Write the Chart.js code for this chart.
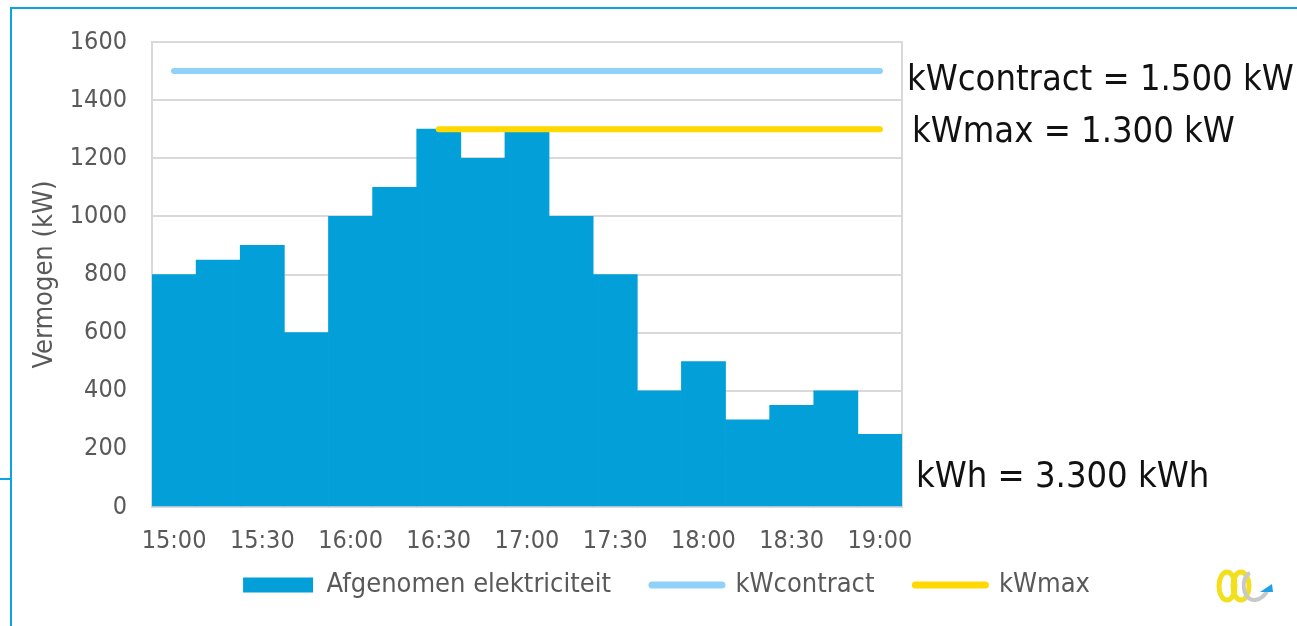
<!DOCTYPE html>
<html lang="nl">
<head>
<meta charset="UTF-8">
<title>Afgenomen elektriciteit</title>
<script src="https://cdn.jsdelivr.net/npm/chart.js@4.4.1/dist/chart.umd.min.js"></script>
<style>
  html, body { margin: 0; padding: 0; background: #fff; }
  #wrap { position: relative; width: 1297px; height: 626px; overflow: hidden; }
  #frame { position: absolute; left: 10px; top: 7px; right: -5px; bottom: -5px;
           border-top: 2px solid #0aa3e3; border-left: 2px solid #0aa3e3; pointer-events: none; }
  #stub { position: absolute; left: 0; top: 478px; width: 11px; height: 2px; background: #0aa3e3; }
  #logo { position: absolute; left: 1210px; top: 566px; }
</style>
</head>
<body>
<div id="wrap">
  <canvas id="chart" width="1297" height="626"></canvas>
  <div id="frame"></div>
  <div id="stub"></div>
  <svg id="logo" width="70" height="45" viewBox="0 0 70 45">
    <ellipse cx="17" cy="20" rx="8" ry="14" fill="none" stroke="#f2e01e" stroke-width="5"/>
    <ellipse cx="31" cy="20" rx="8" ry="14" fill="none" stroke="#f2e01e" stroke-width="5"/>
    <path d="M40 7 C30 11 32 35 45 34 C52 33 56 28 58 23" fill="none" stroke="#c8c8c8" stroke-width="4"/>
    <polygon points="50,26 62,18 63,26" fill="#1ea0e6"/>
  </svg>
</div>

<script>
// tijdstippen per kwartier (alleen de halve uren worden getoond)
const tijden = ['15:00', '15:15', '15:30', '15:45', '16:00', '16:15', '16:30', '16:45', '17:00',
                '17:15', '17:30', '17:45', '18:00', '18:15', '18:30', '18:45', '19:00'];

// afgenomen vermogen per kwartier (kW)
const afgenomen = [800, 850, 900, 600, 1000, 1100, 1300, 1200, 1300, 1000, 800, 400, 500, 300, 350, 400, 250];

// gecontracteerd vermogen en gemeten maximum
const kwContract = [1500, 1500, 1500, 1500, 1500, 1500, 1500, 1500, 1500,
                    1500, 1500, 1500, 1500, 1500, 1500, 1500, 1500];
const kwMax = [null, null, null, null, null, null, 1300, 1300, 1300,
               1300, 1300, 1300, 1300, 1300, 1300, 1300, 1300];

const yTicks = [0, 200, 400, 600, 800, 1000, 1200, 1400, 1600];
const notities = ['kWcontract = 1.500 kW', 'kWmax = 1.300 kW', 'kWh = 3.300 kWh'];

const FONT = '"DejaVu Sans Condensed", "DejaVu Sans", sans-serif';
const GRIJS = '#595959';
const RASTER = '#d9d9d9';

// rand rond het plotgebied
const kader = {
    id: 'kader',
    beforeDatasetsDraw(chart) {
        const { ctx, chartArea: a } = chart;
        ctx.save();
        ctx.strokeStyle = RASTER;
        ctx.lineWidth = 2;
        ctx.strokeRect(a.left, a.top, a.right - a.left, a.bottom - a.top);
        ctx.restore();
    }
};

// teksten rechts naast de grafiek
const notitiesPlugin = {
    id: 'notities',
    afterDraw(chart) {
        const { ctx, chartArea: a, scales } = chart;
        ctx.save();
        ctx.font = '36px ' + FONT;
        ctx.fillStyle = '#111';
        ctx.textBaseline = 'alphabetic';
        ctx.fillText(notities[0], a.right + 5, scales.y.getPixelForValue(kwContract[0]) + 19);
        ctx.fillText(notities[1], a.right + 10, scales.y.getPixelForValue(kwMax[16]) + 13);
        ctx.fillText(notities[2], a.right + 14, a.bottom - 20);
        ctx.restore();
    }
};

new Chart(document.getElementById('chart'), {
    type: 'bar',
    data: {
        labels: tijden,
        datasets: [
            {
                label: 'Afgenomen elektriciteit',
                data: afgenomen,
                backgroundColor: '#029fd9',
                borderWidth: 0,
                categoryPercentage: 1,
                barPercentage: 1,
                yAxisID: 'y',
                order: 3
            },
            {
                type: 'line',
                label: 'kWcontract',
                data: kwContract,
                borderColor: '#8fd1f8',
                borderWidth: 6,
                borderCapStyle: 'round',
                pointRadius: 0,
                yAxisID: 'y',
                order: 2
            },
            {
                type: 'line',
                label: 'kWmax',
                data: kwMax,
                borderColor: '#ffd800',
                borderWidth: 6,
                borderCapStyle: 'round',
                pointRadius: 0,
                yAxisID: 'y',
                order: 1
            }
        ]
    },
    options: {
        responsive: false,
        animation: false,
        layout: { padding: { top: 42, left: 36, right: 0, bottom: 17.5 } },
        scales: {
            x: {
                grid: { display: false },
                border: { display: true, color: RASTER, width: 2 },
                ticks: {
                    autoSkip: false,
                    maxRotation: 0,
                    mirror: true,   // geen clipping, labels mogen over de legenda-rand
                    padding: -49,
                    color: GRIJS,
                    font: { family: FONT, size: 25 },
                    callback: (v, i) => (i % 2 === 0 ? tijden[i] : '')
                },
                afterFit: s => { s.height = 23.5; }
            },
            y: {
                min: 0,
                max: 1600,
                afterBuildTicks: s => { s.ticks = yTicks.map(v => ({ value: v })); },
                grid: { color: RASTER, lineWidth: 2, drawTicks: false },
                border: { display: true, color: RASTER, width: 2 },
                ticks: {
                    padding: 25,
                    color: GRIJS,
                    font: { family: FONT, size: 25 },
                    callback: v => String(v)
                },
                title: {
                    display: true,
                    text: 'Vermogen (kW)',
                    color: GRIJS,
                    font: { family: FONT, size: 27 },
                    padding: { top: -7, bottom: 0 }
                },
                afterFit: s => { s.width = 152 - 36; }
            },
            ruimte: {
                position: 'right',
                grid: { display: false },
                border: { display: false },
                ticks: { display: false },
                afterFit: s => { s.width = 1297 - 902; }
            }
        },
        plugins: {
            tooltip: { enabled: false },
            legend: {
                position: 'bottom',
                labels: {
                    color: GRIJS,
                    font: { family: FONT, size: 27 },
                    usePointStyle: true,
                    pointStyleWidth: 70,
                    boxHeight: 15,
                    padding: 41,
                    generateLabels: chart => chart.data.datasets.map((ds, i) => ({
                        text: ds.label,
                        datasetIndex: i,
                        fillStyle: ds.type === 'line' ? ds.borderColor : ds.backgroundColor,
                        strokeStyle: ds.type === 'line' ? ds.borderColor : ds.backgroundColor,
                        lineWidth: ds.type === 'line' ? 7 : 0,
                        lineCap: 'round',
                        pointStyle: ds.type === 'line' ? 'line' : 'rect',
                        fontColor: GRIJS,
                        hidden: false
                    }))
                }
            }
        }
    },
    plugins: [kader, notitiesPlugin]
});
</script>
</body>
</html>
